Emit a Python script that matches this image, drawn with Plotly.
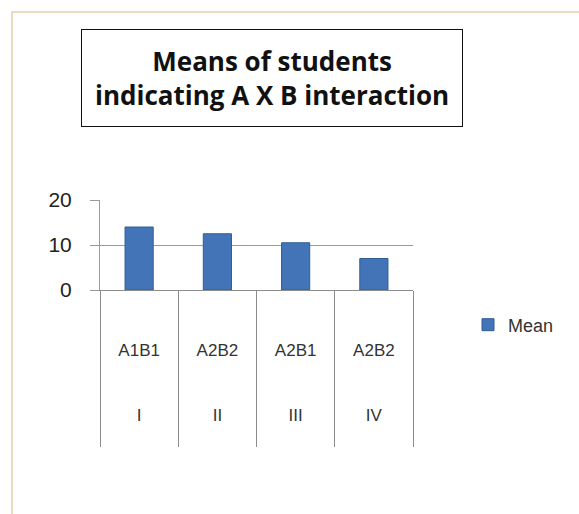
import plotly.graph_objects as go

groups = ["<br><br><br><br>I<br> ", "<br><br><br><br>II<br> ", "<br><br><br><br>III<br> ", "<br><br><br><br>IV<br> "]
combos = ["<br><br>A1B1", "<br><br>A2B2", "<br><br>A2B1", "<br><br>A2B2"]
means = [14, 12.5, 10.5, 7]
y_ticks = [0, 10, 20]

W, H = 579, 514
L, R, T, B = 100, 579 - 413, 200, 514 - 290
pw, ph = W - L - R, H - T - B

def px(x):
    return (x - L) / pw

def py(y):
    return (H - B - y) / ph

fig = go.Figure()
fig.add_trace(go.Bar(
    x=[groups, combos], y=means, name="Mean",
    width=0.36,
    marker=dict(color="#4474B8", line=dict(color="#2F5C99", width=1)),
))

fig.update_layout(
    width=W, height=H,
    margin=dict(l=L, r=R, t=T, b=B),
    paper_bgcolor="white", plot_bgcolor="white",
    showlegend=True,
    font=dict(family="Liberation Sans, Arial, sans-serif", color="#333333", size=17),
    legend=dict(x=px(468), y=py(325), xanchor="left", yanchor="middle",
                font=dict(size=18, color="#333333"), bgcolor="rgba(0,0,0,0)",
                itemwidth=30),
    xaxis=dict(type="multicategory", showline=True, linecolor="#8c8c8c",
               showdividers=True, dividercolor="#8c8c8c", dividerwidth=1,
               tickfont=dict(size=17, color="#333333"), ticks=""),
    yaxis=dict(range=[0, 20], tickvals=y_ticks, showgrid=True, gridcolor="#9a9a9a",
               showline=True, linecolor="#9a9a9a", ticks="outside", ticklen=9,
               tickcolor="#9a9a9a", tickfont=dict(size=21, color="#222222"),
               ticklabelstandoff=14, zeroline=False),
    shapes=[dict(type="rect", xref="paper", yref="paper",
                 x0=px(12), x1=px(620), y0=py(560), y1=py(12),
                 line=dict(color="#eedcc2", width=2), layer="below")],
    annotations=[dict(text="<b>Means of students<br>indicating A X B interaction</b>",
                      xref="paper", yref="paper", x=px(272), y=py(78),
                      xanchor="center", yanchor="middle", showarrow=False,
                      font=dict(family="Open Sans, sans-serif", size=26, color="#111111"),
                      bordercolor="#111111", borderwidth=1, borderpad=13, bgcolor="white")],
)

fig.write_html("out.html", config={"displayModeBar": False},
               post_script="document.body.style.margin='0px';")
